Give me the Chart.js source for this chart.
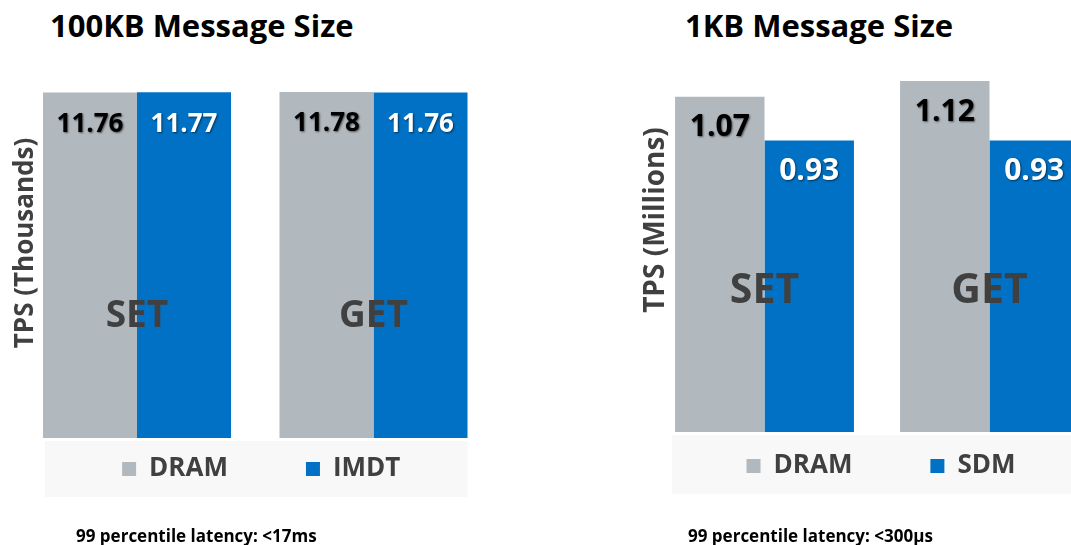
<!DOCTYPE html>
<html><head><meta charset="utf-8">
<script src="https://cdn.jsdelivr.net/npm/chart.js@4.4.0/dist/chart.umd.min.js"></script>
<style>
html,body{margin:0;padding:0;width:1071px;height:545px;overflow:hidden;background:#fff;font-family:"Open Sans",sans-serif;position:relative;}
.t{position:absolute;font-weight:700;color:#000;white-space:nowrap;line-height:1;}
.title{font-size:31px;}
.note{font-size:17px;}
.wrap{position:absolute;top:0;height:560px;}
</style></head><body>
<div class="t title" style="left:50px;top:10px">100KB Message Size</div>
<div class="t title" style="left:685px;top:10px">1KB Message Size</div>
<div class="wrap" style="left:0;width:535px"><canvas id="c1"></canvas></div>
<div class="wrap" style="left:535px;width:600px"><canvas id="c2"></canvas></div>
<div class="t note" style="left:76px;top:527px">99 percentile latency: &lt;17ms</div>
<div class="t note" style="left:688px;top:527px">99 percentile latency: &lt;300µs</div>
<script>
const categories = ['SET', 'GET'];
const seriesLeft = ['DRAM', 'IMDT'];
const dramLeft = [11.76, 11.78];
const imdtLeft = [11.77, 11.76];
const yTitleLeft = 'TPS (Thousands)';
const seriesRight = ['DRAM', 'SDM'];
const dramRight = [1.07, 1.12];
const sdmRight = [0.93, 0.93];
const yTitleRight = 'TPS (Millions)';

const GRAY = '#b2b9be', BLUE = '#0071c4', TXT = '#404040';
const FONT = '"Open Sans", sans-serif';

const overlay = {
  id: 'overlay',
  afterLayout(chart, args, o) {
    const lg = chart.legend, ca = chart.chartArea;
    const pad = chart.options.plugins.legend.labels.padding;
    const fs = chart.options.plugins.legend.labels.font.size;
    const newTop = ca.bottom + o.legendCenter - pad - fs / 2;
    const dy = newTop - lg.top;
    lg.top += dy; lg.bottom += dy;
    lg.left += o.legendDx; lg.right += o.legendDx;
  },
  beforeDraw(chart, args, o) {
    const ctx = chart.ctx, ca = chart.chartArea;
    const first = chart.getDatasetMeta(0).data[0];
    const lastMeta = chart.getDatasetMeta(chart.data.datasets.length - 1).data;
    const last = lastMeta[lastMeta.length - 1];
    const x0 = first.x - first.width / 2 + o.bgDx, x1 = last.x + last.width / 2;
    ctx.save();
    ctx.fillStyle = '#f8f8f8';
    ctx.fillRect(x0, ca.bottom + o.bgTop, x1 - x0, o.bgBottom - o.bgTop);
    ctx.restore();
  },
  afterDatasetsDraw(chart, args, o) {
    const ctx = chart.ctx, ca = chart.chartArea;
    ctx.save();
    // value labels
    ctx.textAlign = 'center';
    ctx.textBaseline = 'middle';
    ctx.font = 'bold ' + o.valueSize + 'px ' + FONT;
    chart.data.datasets.forEach((ds, di) => {
      chart.getDatasetMeta(di).data.forEach((bar, i) => {
        ctx.shadowColor = 'rgba(0,0,0,0.55)';
        ctx.shadowBlur = 2; ctx.shadowOffsetX = 1; ctx.shadowOffsetY = 1;
        ctx.fillStyle = o.valueColors[di];
        ctx.fillText(ds.data[i].toFixed(2), bar.x, bar.y + o.valueOffset);
      });
    });
    ctx.shadowColor = 'transparent';
    // category labels
    ctx.font = 'bold ' + o.catSize + 'px ' + FONT;
    ctx.fillStyle = TXT;
    const xs = chart.scales.x;
    chart.data.labels.forEach((lab, i) => {
      ctx.fillText(lab, xs.getPixelForValue(i), ca.bottom - o.catRise);
    });
    // y axis title
    ctx.font = 'bold ' + o.yTitleSize + 'px ' + FONT;
    ctx.translate(o.yTitleX, o.yTitleY);
    ctx.rotate(-Math.PI / 2);
    ctx.fillText(o.yTitle, 0, 0);
    ctx.restore();
  }
};

function makeChart(id, names, a, b, pad, ov) {
  return new Chart(document.getElementById(id), {
    type: 'bar',
    data: {
      labels: categories,
      datasets: [
        { label: names[0], data: a, backgroundColor: GRAY, borderWidth: 0, barPercentage: 1, categoryPercentage: 0.795 },
        { label: names[1], data: b, backgroundColor: BLUE, borderWidth: 0, barPercentage: 1, categoryPercentage: 0.795 }
      ]
    },
    options: {
      responsive: true,
      maintainAspectRatio: false,
      animation: false,
      layout: { padding: pad },
      scales: {
        x: { display: false },
        y: { display: false, min: 0, max: Math.max(...a, ...b) }
      },
      plugins: {
        tooltip: { enabled: false },
        legend: {
          position: 'bottom',
          fullSize: false,
          labels: {
            boxWidth: 14, boxHeight: 14, padding: 78, color: TXT,
            font: { family: FONT, size: 26, weight: 'bold' }
          }
        },
        overlay: ov
      }
    },
    plugins: [overlay]
  });
}

makeChart('c1', seriesLeft, dramLeft, imdtLeft,
  { left: 18.75, right: 43.25, top: 92, bottom: 8 },
  { legendCenter: 31, legendDx: 6, bgDx: 2, bgTop: 3, bgBottom: 59,
    valueSize: 26, valueOffset: 32, valueColors: ['#000000', '#ffffff'],
    catSize: 37, catRise: 122,
    yTitle: yTitleLeft, yTitleSize: 26, yTitleX: 26, yTitleY: 243 });

makeChart('c2', seriesRight, dramRight, sdmRight,
  { left: 117, right: 33, top: 81, bottom: 14 },
  { legendCenter: 34, legendDx: 4, bgDx: -3, bgTop: 3, bgBottom: 62,
    valueSize: 30, valueOffset: 31, valueColors: ['#000000', '#ffffff'],
    catSize: 41, catRise: 141,
    yTitle: yTitleRight, yTitleSize: 28, yTitleX: 121, yTitleY: 220 });
</script>
</body></html>
